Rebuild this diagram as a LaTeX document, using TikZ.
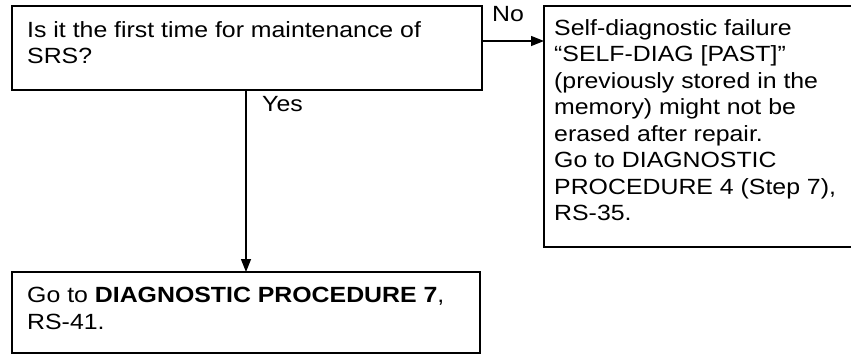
\documentclass[tikz,border=0pt]{standalone}
\usepackage{fontspec}
\setmainfont{Liberation Sans}[FakeStretch=1.13]
\usetikzlibrary{arrows.meta}
\begin{document}
\begin{tikzpicture}[x=1pt,y=-1pt,
  box/.style={draw=black,line width=1.4pt},
  txt/.style={anchor=north west,inner sep=0pt,align=left,font=\fontsize{22}{26.5}\selectfont},
  lbl/.style={inner sep=0pt,anchor=north west,font=\fontsize{22}{26.5}\selectfont},
  arr/.style={line width=1.4pt,-{Triangle[length=13pt,width=10pt]}}]
\useasboundingbox (0,0) rectangle (851,354);
% question box
\draw[box] (12,6) rectangle (482,90);
\node[txt] (qt) at (27,21) {Is it the first time for maintenance of\\SRS?};
% "No" box (right edge beyond the picture)
\draw[box] (870,6) -- (544,6) -- (544,247) -- (870,247);
\node[txt] (nt) at (554,19) {Self-diagnostic failure\\“SELF-DIAG [PAST]”\\(previously stored in the\\memory) might not be\\erased after repair.\\Go to DIAGNOSTIC\\PROCEDURE 4 (Step 7),\\RS-35.};
% "Yes" box
\draw[box] (12,272) rectangle (480,353);
\node[txt] (yt) at (27,287) {Go to \textbf{DIAGNOSTIC PROCEDURE 7},\\RS-41.};
% connectors
\coordinate (qr) at (482,41);
\coordinate (nl) at (544,41);
\coordinate (qb) at (246,90);
\coordinate (yb) at (246,272);
\draw[arr] (qr) -- (nl);
\draw[arr] (qb) -- (yb);
\node[lbl] (no) at (492,6) {No};
\node[lbl] (yes) at (262,96) {Yes};
\end{tikzpicture}
\end{document}
